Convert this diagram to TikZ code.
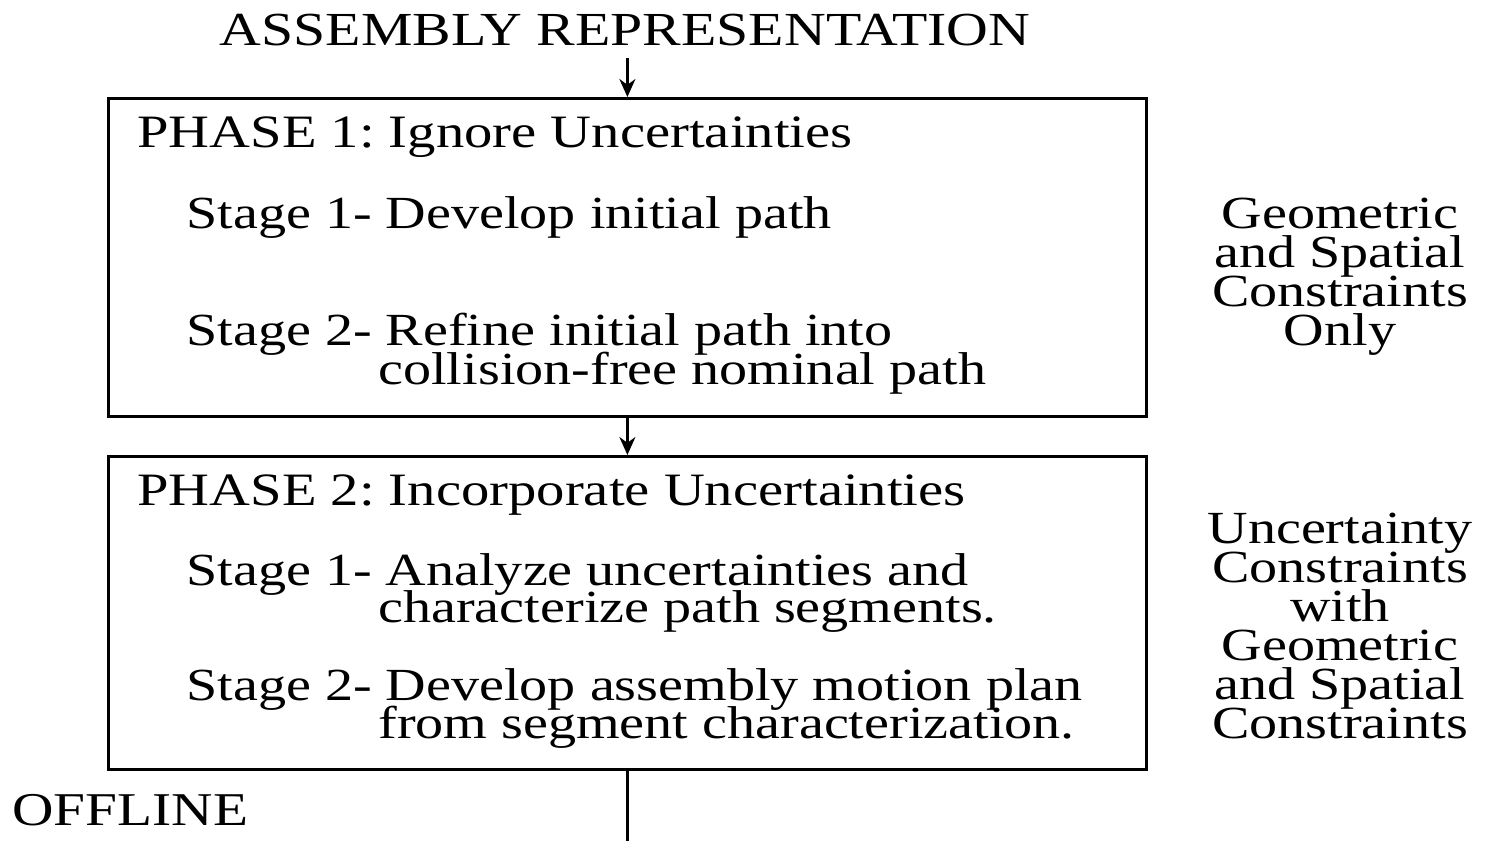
\documentclass[tikz,border=0pt]{standalone}
\usepackage{fontspec}
\setmainfont{Liberation Serif}[FakeStretch=1.22]
\usetikzlibrary{arrows.meta}
\newcommand\tightlines{\lineskiplimit=-30pt\relax}
\tikzset{
  bodyfont/.style={font={\fontsize{23}{19.5}\selectfont\frenchspacing\tightlines}},
  capsfont/.style={font={\fontsize{23.2}{19.5}\selectfont\frenchspacing}},
  txt/.style={anchor=base west, inner sep=0pt, bodyfont},
  head/.style={anchor=base west, inner sep=0pt, capsfont},
  side/.style={anchor=base, inner sep=0pt, align=center, bodyfont},
  phasebox/.style={draw, line width=1.4pt, inner sep=0pt},
  flow/.style={line width=1.3pt, -{Stealth[length=9pt,width=8pt]}},
  plain/.style={line width=1.3pt}
}
\begin{document}
\begin{tikzpicture}[x=0.5pt,y=-0.5pt]
\useasboundingbox (0,0) rectangle (1488,841);
\fill[white] (0,0) rectangle (1488,841);

% title
\node[anchor=base, inner sep=0pt, font={\fontsize{23.7}{19.5}\selectfont}] (title) at (625,45) {ASSEMBLY REPRESENTATION};

% phase boxes
\node[phasebox, minimum width=519pt, minimum height=159pt, anchor=north west] (p1) at (107,97) {};
\node[phasebox, minimum width=519pt, minimum height=156.5pt, anchor=north west] (p2) at (107,455) {};

% phase 1 text
\node[head] (h1) at (137,147) {PHASE 1: Ignore Uncertainties};
\node[txt] (s11) at (186,228) {Stage 1- Develop initial path};
\node[txt] (s12) at (186,345) {Stage 2- Refine initial path into};
\node[txt] (s12b) at (378,384) {collision-free nominal path};

% phase 2 text
\node[head] (h2) at (137,505) {PHASE 2: Incorporate Uncertainties};
\node[txt] (s21) at (186,585) {Stage 1- Analyze uncertainties and};
\node[txt] (s21b) at (378,622) {characterize path segments.};
\node[txt] (s22) at (186,700) {Stage 2- Develop assembly motion plan};
\node[txt] (s22b) at (378,738) {from segment characterization.};

% side notes (anchored on the last line's baseline)
\node[side] (n1) at (1340,345) {Geometric\\and Spatial\\Constraints\\Only};
\node[side] (n2) at (1340,738) {Uncertainty\\Constraints\\with\\Geometric\\and Spatial\\Constraints};

% offline label
\node[anchor=base west, inner sep=0pt, font={\fontsize{23.5}{19.5}\selectfont}] (off) at (12,825) {OFFLINE};

% connectors
\coordinate (bottom) at (0,841);
\path (p1.north |- title.south) ++(0,12) coordinate (t0);
\draw[flow] (t0) -- (p1.north);
\draw[flow] (p1.south) -- (p2.north);
\draw[plain] (p2.south) -- (p2.south |- bottom);
\end{tikzpicture}
\end{document}
